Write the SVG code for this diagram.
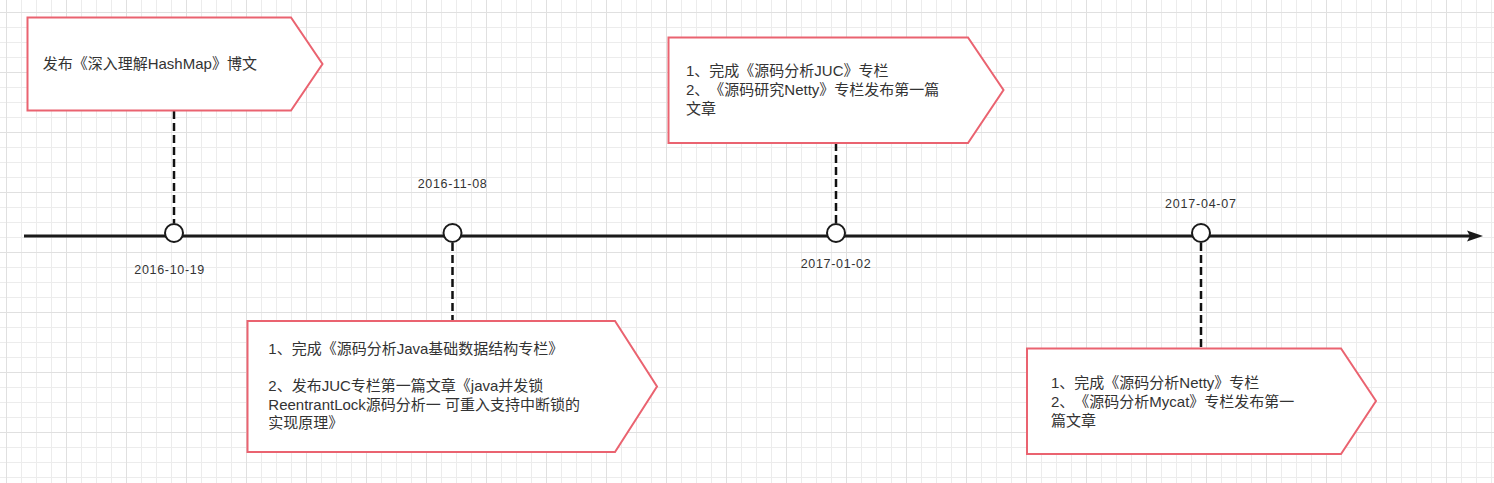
<svg xmlns="http://www.w3.org/2000/svg" width="1494" height="483" viewBox="0 0 1494 483">
  <style>
    .box { fill: #ffffff; stroke: #EA6370; stroke-width: 2; }
    .dot { fill: #ffffff; stroke: #1a1a1a; stroke-width: 2; }
    .txt { font-family: "Liberation Sans", "Noto Sans CJK SC", sans-serif; font-size: 15px; fill: #333333; text-spacing-trim: space-all; }
    .date { font-family: "Liberation Sans", "Noto Sans CJK SC", sans-serif; font-size: 12.5px; fill: #333333; }
    .dash { stroke: #111111; stroke-width: 2.5; stroke-dasharray: 8 4; fill: none; }
    .axis { stroke: #1a1a1a; stroke-width: 3; fill: none; }
  </style>
  <defs>
    <pattern id="minor" x="6" y="12" width="15" height="15" patternUnits="userSpaceOnUse">
      <path d="M0 0.5 H15 M0.5 0 V15" stroke="#ececec" stroke-width="1" fill="none"/>
    </pattern>
    <pattern id="major" x="6" y="12" width="60" height="60" patternUnits="userSpaceOnUse">
      <path d="M0 0.5 H60 M0.5 0 V60" stroke="#e0e0e0" stroke-width="1" fill="none"/>
    </pattern>
  </defs>
  <rect width="1494" height="483" fill="#ffffff"/>
  <rect width="1494" height="483" fill="url(#minor)"/>
  <rect width="1494" height="483" fill="url(#major)"/>

  <g id="connectors">
    <line class="axis" x1="24" y1="236" x2="1470" y2="236"/>
    <polygon points="1467,230.5 1483,236 1467,241.5 1470,236" fill="#1a1a1a"/>
    <line class="dash" x1="174" y1="111" x2="174" y2="223"/>
    <line class="dash" x1="452.5" y1="243" x2="452.5" y2="321"/>
    <line class="dash" x1="836" y1="143" x2="836" y2="223"/>
    <line class="dash" x1="1201" y1="243" x2="1201" y2="348"/>
  </g>

  <g id="event-2016-10-19">
    <polygon class="box" points="27.5,17.5 291,17.5 322.5,64 291,110.5 27.5,110.5"/>
    <text class="txt" x="42.7" y="69">发布《深入理解HashMap》博文</text>
    <circle class="dot" cx="174" cy="233" r="9"/>
    <text class="date" x="134.3" y="274" textLength="70" lengthAdjust="spacing">2016-10-19</text>
  </g>

  <g id="event-2016-11-08">
    <polygon class="box" points="247.5,321 615,321 657,386.5 615,452 247.5,452"/>
    <text class="txt" x="268.3" y="353.8">1、完成《源码分析Java基础数据结构专栏》</text>
    <text class="txt" x="268.3" y="391.2">2、发布JUC专栏第一篇文章《java并发锁</text>
    <text class="txt" x="268.3" y="409.5">ReentrantLock源码分析一 可重入支持中断锁的</text>
    <text class="txt" x="268.3" y="427.6">实现原理》</text>
    <circle class="dot" cx="452.5" cy="233" r="9"/>
    <text class="date" x="417.7" y="188.3" textLength="69" lengthAdjust="spacing">2016-11-08</text>
  </g>

  <g id="event-2017-01-02">
    <polygon class="box" points="668.5,37.5 968,37.5 1003.5,90 968,143 668.5,143"/>
    <text class="txt" x="686" y="76.2">1、完成《源码分析JUC》专栏</text>
    <text class="txt" x="686" y="95.2">2、《源码研究Netty》专栏发布第一篇</text>
    <text class="txt" x="686" y="114.2">文章</text>
    <circle class="dot" cx="836" cy="233" r="9"/>
    <text class="date" x="800.7" y="268.3" textLength="70" lengthAdjust="spacing">2017-01-02</text>
  </g>

  <g id="event-2017-04-07">
    <polygon class="box" points="1027,348.5 1341,348.5 1376,401 1341,454 1027,454"/>
    <text class="txt" x="1051" y="388.2">1、完成《源码分析Netty》专栏</text>
    <text class="txt" x="1051" y="407.2">2、《源码分析Mycat》专栏发布第一</text>
    <text class="txt" x="1051" y="426">篇文章</text>
    <circle class="dot" cx="1201" cy="233" r="9"/>
    <text class="date" x="1165" y="208.3" textLength="71" lengthAdjust="spacing">2017-04-07</text>
  </g>
</svg>
